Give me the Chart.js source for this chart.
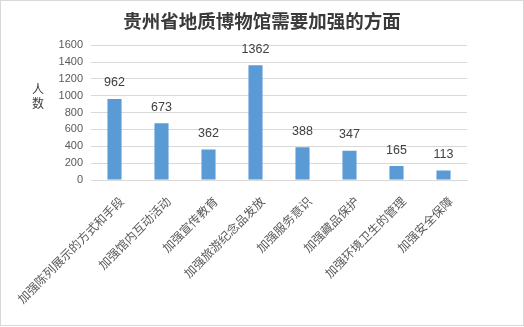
<!DOCTYPE html>
<html><head><meta charset="utf-8">
<script src="https://cdn.jsdelivr.net/npm/chart.js@4/dist/chart.umd.min.js"></script>
<style>
html,body{margin:0;padding:0;background:#fff;}
#wrap{position:relative;width:524px;height:327px;}
#frame{position:absolute;left:0;top:0;width:524px;height:326px;box-sizing:border-box;border:1px solid #d9d9d9;pointer-events:none;}
canvas{position:absolute;left:0;top:0;}
</style></head>
<body>
<div id="wrap"><canvas id="c" width="524" height="327"></canvas><div id="frame"></div></div>
<script>
const titleText = '贵州省地质博物馆需要加强的方面';
const yAxisTitle = ['人', '数'];
const categories = ['加强陈列展示的方式和手段', '加强馆内互动活动', '加强宣传教育', '加强旅游纪念品发放', '加强服务意识', '加强藏品保护', '加强环境卫生的管理', '加强安全保障'];
const values = [962, 673, 362, 1362, 388, 347, 165, 113];
const yTicks = [0, 200, 400, 600, 800, 1000, 1200, 1400, 1600];

const labelPlugin = {
  id: 'valueLabels',
  afterDatasetsDraw(chart) {
    const ctx = chart.ctx;
    const meta = chart.getDatasetMeta(0);
    ctx.save();
    ctx.font = '12.5px "Liberation Sans", Arial, sans-serif';
    ctx.fillStyle = '#404040';
    ctx.textAlign = 'center';
    ctx.textBaseline = 'middle';
    meta.data.forEach((bar, i) => {
      ctx.fillText(String(values[i]), bar.x, bar.y - 16);
    });
    ctx.restore();
  }
};
const yTitlePlugin = {
  id: 'yTitle',
  afterDraw(chart) {
    const ctx = chart.ctx;
    const ys = chart.scales.y;
    ctx.save();
    ctx.font = '12px "Noto Sans CJK SC", sans-serif';
    ctx.fillStyle = '#404040';
    ctx.textAlign = 'center';
    ctx.textBaseline = 'middle';
    const x = ys.left + 38;
    const yc = ys.getPixelForValue(1050);
    yAxisTitle.forEach((ch, i) => ctx.fillText(ch, x, yc + i * 14 - 2));
    ctx.restore();
  }
};

new Chart(document.getElementById('c'), {
  type: 'bar',
  data: {
    labels: categories,
    datasets: [{ data: values, backgroundColor: '#5b9bd5', barPercentage: 0.3, categoryPercentage: 1 }]
  },
  options: {
    responsive: false,
    animation: false,
    devicePixelRatio: 1,
    layout: { padding: 0 },
    plugins: {
      legend: { display: false },
      tooltip: { enabled: false },
      title: {
        display: true,
        text: titleText,
        color: '#3a3a3a',
        font: { family: '"Noto Sans CJK SC", sans-serif', size: 18.5, weight: 'bold' },
        padding: { top: 10, bottom: 13 }
      }
    },
    scales: {
      x: {
        grid: { display: false, drawTicks: false },
        border: { color: '#d9d9d9', width: 1 },
        ticks: {
          color: '#595959',
          font: { family: '"Noto Sans CJK SC", sans-serif', size: 12 },
          maxRotation: 45, minRotation: 45, autoSkip: false, padding: 14, labelOffset: 7
        },
        afterFit(s) { s.height = 147; s.paddingLeft = 0; s.paddingRight = 0; }
      },
      y: {
        min: 0, max: 1600,
        afterBuildTicks(s) { s.ticks = yTicks.map(v => ({ value: v })); },
        grid: { color: '#d9d9d9', drawTicks: false },
        border: { display: false },
        ticks: {
          color: '#595959',
          font: { family: '"Liberation Sans", Arial, sans-serif', size: 11 },
          padding: 8,
          callback: (v) => String(v)
        },
        afterFit(s) { s.width = 91; s.paddingTop = 0; s.paddingBottom = 0; }
      },
      yRight: {
        position: 'right',
        display: true,
        grid: { display: false, drawTicks: false },
        border: { display: false },
        ticks: { display: false },
        afterFit(s) { s.width = 57; s.paddingTop = 0; s.paddingBottom = 0; }
      }
    }
  },
  plugins: [labelPlugin, yTitlePlugin]
});
</script>
</body></html>
